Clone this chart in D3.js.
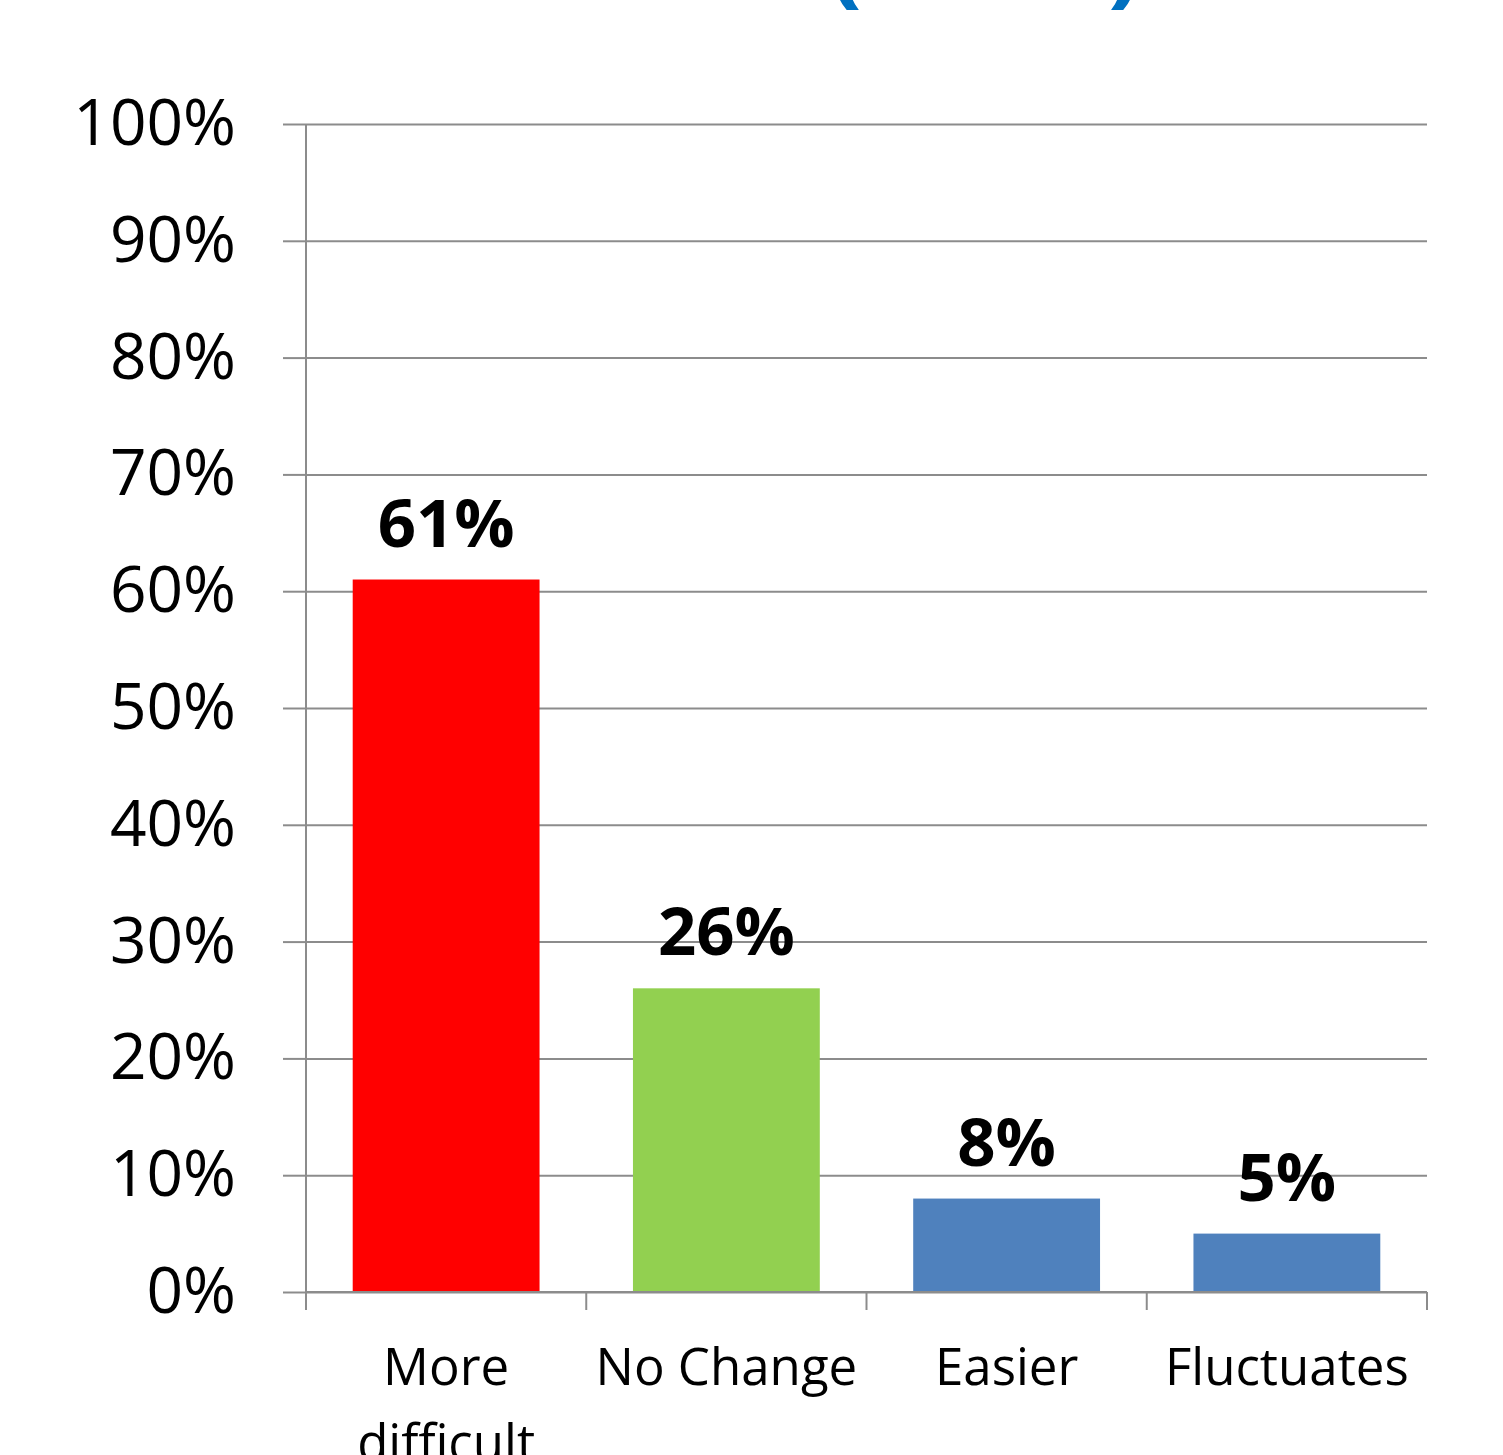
<!DOCTYPE html>
<html>
<head>
<meta charset="utf-8">
<script src="https://cdn.jsdelivr.net/npm/d3@7"></script>
<style>
  html, body { margin: 0; padding: 0; background: #ffffff; }
  svg { display: block; }
  text { font-family: "Open Sans", "Noto Sans", sans-serif; fill: #000; }
</style>
</head>
<body>
<svg id="chart" width="1503" height="1455"></svg>
<script>
// Share of responses per category (percent)
const categories = ["More difficult", "No Change", "Easier", "Fluctuates"];
const values = [61, 26, 8, 5];
const barColors = ["#FF0000", "#92D050", "#4F81BD", "#4F81BD"];
const yTicks = [0, 10, 20, 30, 40, 50, 60, 70, 80, 90, 100];

const W = 1503, H = 1455;
const margin = { top: 124, right: 76, bottom: 163, left: 306 };
const innerW = W - margin.left - margin.right;
const innerH = H - margin.top - margin.bottom;

const svg = d3.select("#chart");

// Title line, mostly above the visible area
const title = svg.append("g").attr("fill", "#0070C0")
  .style("font-weight", "bold").style("font-size", "100px");
title.append("text").attr("x", 828).attr("y", -6).style("fill", "#0070C0").text("(");
title.append("text").attr("x", 1108).attr("y", -6).style("fill", "#0070C0").text(")");

const g = svg.append("g").attr("transform", `translate(${margin.left},${margin.top})`);

const x = d3.scaleBand().domain(categories).range([0, innerW])
  .paddingInner(1 / 3).paddingOuter(1 / 6);
const y = d3.scaleLinear().domain([0, 100]).range([innerH, 0]);

const gridColor = "#8C8C8C";

// Horizontal gridlines
g.append("g")
  .call(d3.axisLeft(y).tickValues(yTicks).tickSize(-innerW).tickFormat(""))
  .call(a => a.select(".domain").remove())
  .call(a => a.selectAll("line").attr("stroke", gridColor).attr("stroke-width", 2));

// Y axis with percent labels
g.append("g")
  .call(d3.axisLeft(y).tickValues(yTicks).tickSize(23).tickPadding(47)
    .tickFormat(d => d + "%"))
  .call(a => a.select(".domain").attr("stroke", gridColor).attr("stroke-width", 2)
    .attr("d", `M0,${innerH}V0`))
  .call(a => a.selectAll("line").attr("stroke", gridColor).attr("stroke-width", 2))
  .call(a => a.selectAll("text").style("font-size", "64px").attr("fill", "#000")
    .attr("dy", "0.32em"));

// Bars
g.selectAll("rect.bar").data(values).join("rect")
  .attr("class", "bar")
  .attr("x", (d, i) => x(categories[i]))
  .attr("width", x.bandwidth())
  .attr("y", d => y(d))
  .attr("height", d => innerH - y(d))
  .attr("fill", (d, i) => barColors[i]);

// Value labels
g.selectAll("text.val").data(values).join("text")
  .attr("class", "val")
  .attr("x", (d, i) => x(categories[i]) + x.bandwidth() / 2)
  .attr("y", d => y(d) - 33)
  .attr("text-anchor", "middle")
  .style("font-weight", "bold").style("font-size", "67px")
  .text(d => d + "%");

// X axis: baseline and ticks at category boundaries
const xAxis = g.append("g").attr("transform", `translate(0,${innerH})`);
xAxis.append("line").attr("x1", 0).attr("x2", innerW)
  .attr("stroke", gridColor).attr("stroke-width", 2);
const step = x.step();
xAxis.selectAll("line.tick").data(d3.range(categories.length + 1)).join("line")
  .attr("class", "tick")
  .attr("x1", i => i * step).attr("x2", i => i * step)
  .attr("y1", 0).attr("y2", 18)
  .attr("stroke", gridColor).attr("stroke-width", 2);

// Category labels ("More difficult" wraps onto two lines)
const wrapped = { "More difficult": ["More", "difficult"] };
xAxis.selectAll("text.cat").data(categories).join("text")
  .attr("class", "cat")
  .attr("text-anchor", "middle")
  .style("font-size", "51px")
  .attr("transform", d => `translate(${x(d) + x.bandwidth() / 2},93)`)
  .each(function (d) {
    const lines = wrapped[d] || [d];
    d3.select(this).selectAll("tspan").data(lines).join("tspan")
      .attr("x", 0).attr("y", (l, i) => i * 76).text(l => l);
  });
</script>
</body>
</html>
